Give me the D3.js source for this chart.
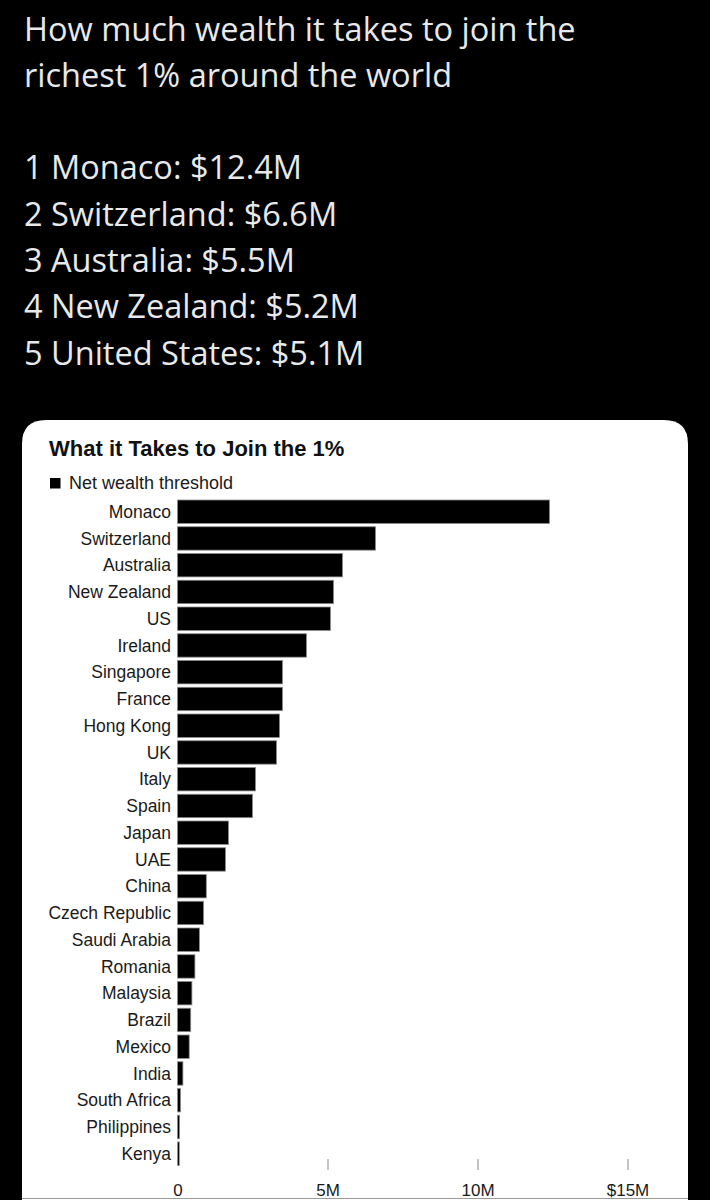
<!DOCTYPE html>
<html>
  <head>
    <meta charset="utf-8">
    <title>What it Takes to Join the 1%</title>
    <script type="text/javascript" src="https://cdn.jsdelivr.net/npm/d3@7"></script>
    <style type="text/css">
        html, body {
            margin: 0;
            padding: 0;
            background: #000;
        }
        svg {
            display: block;
        }
    </style>
  </head>
  <body>
    <div id="viz"></div>
    <script type="text/javascript">

    // header text of the post
    var headerLines = [
        "How much wealth it takes to join the",
        "richest 1% around the world",
        "",
        "1 Monaco: $12.4M",
        "2 Switzerland: $6.6M",
        "3 Australia: $5.5M",
        "4 New Zealand: $5.2M",
        "5 United States: $5.1M"
    ];

    var countries = ["Monaco", "Switzerland", "Australia", "New Zealand", "US", "Ireland",
        "Singapore", "France", "Hong Kong", "UK", "Italy", "Spain", "Japan", "UAE", "China",
        "Czech Republic", "Saudi Arabia", "Romania", "Malaysia", "Brazil", "Mexico", "India",
        "South Africa", "Philippines", "Kenya"];

    // net wealth threshold, $ millions
    var thresholds = [12.4, 6.6, 5.5, 5.2, 5.1, 4.3,
        3.5, 3.5, 3.4, 3.3, 2.6, 2.5, 1.7, 1.6, 0.96,
        0.87, 0.73, 0.58, 0.48, 0.44, 0.39, 0.18,
        0.10, 0.07, 0.06];

    var tickValues = [0, 5, 10, 15];
    var tickLabels = ["0", "5M", "10M", "$15M"];

    var W = 710, H = 1200;
    var svg = d3.select("#viz").append("svg")
        .attr("width", W)
        .attr("height", H);

    svg.append("rect")
        .attr("width", W).attr("height", H)
        .attr("fill", "#000");

    // tweet text
    svg.append("g").selectAll("text")
        .data(headerLines)
        .enter().append("text")
        .attr("x", 24)
        .attr("y", function(d, i) { return 40.5 + i * 46.3; })
        .attr("fill", "#e7e9ea")
        .style("font", "32.5px 'Open Sans', Roboto, sans-serif")
        .text(function(d) { return d; });

    // white card, rounded top, cut at the bottom
    var cx0 = 22, cx1 = 688, cy0 = 420, r = 24;
    svg.append("path")
        .attr("d", "M" + cx0 + "," + H + " V" + (cy0 + r) +
            " Q" + cx0 + "," + cy0 + " " + (cx0 + r) + "," + cy0 +
            " H" + (cx1 - r) + " Q" + cx1 + "," + cy0 + " " + cx1 + "," + (cy0 + r) +
            " V" + H + " Z")
        .attr("fill", "#fff");
    svg.append("line")
        .attr("x1", cx0).attr("x2", cx1)
        .attr("y1", 1198.5).attr("y2", 1198.5)
        .attr("stroke", "#9a9a9a")
        .attr("stroke-width", 1);

    var font = "'Liberation Sans', Arial, Helvetica, sans-serif";

    svg.append("text")
        .attr("x", 49).attr("y", 456)
        .attr("fill", "#111")
        .style("font", "bold 22px " + font)
        .text("What it Takes to Join the 1%");

    svg.append("rect")
        .attr("x", 50).attr("y", 478)
        .attr("width", 10.5).attr("height", 10.5)
        .attr("fill", "#000");
    svg.append("text")
        .attr("x", 69).attr("y", 489)
        .attr("fill", "#1a1a1a")
        .style("font", "18px " + font)
        .text("Net wealth threshold");

    // scales
    var step = 26.75;
    var x = d3.scaleLinear().domain([0, 15]).range([177.5, 627.5]);
    var y = d3.scaleBand()
        .domain(countries)
        .range([500 - step * 0.0625, 500 - step * 0.0625 + countries.length * step])
        .paddingInner(0.125)
        .paddingOuter(0.0625);

    var chart = svg.append("g");

    chart.selectAll("rect.bar")
        .data(countries)
        .enter().append("rect")
        .attr("class", "bar")
        .attr("x", x(0))
        .attr("y", function(d) { return y(d); })
        .attr("width", function(d, i) { return x(thresholds[i]) - x(0); })
        .attr("height", y.bandwidth())
        .attr("fill", "#000")
        .attr("stroke", "#8c8c8c")
        .attr("stroke-width", 0.8);

    chart.selectAll("text.label")
        .data(countries)
        .enter().append("text")
        .attr("class", "label")
        .attr("x", 171)
        .attr("y", function(d) { return y(d) + y.bandwidth() / 2; })
        .attr("dy", "0.35em")
        .attr("text-anchor", "end")
        .attr("fill", "#1a1a1a")
        .style("font", "17.5px " + font)
        .text(function(d) { return d; });

    // x axis
    var xAxis = d3.axisBottom(x)
        .tickValues(tickValues)
        .tickFormat(function(d, i) { return tickLabels[i]; })
        .tickSize(11)
        .tickPadding(14);

    var ax = svg.append("g")
        .attr("transform", "translate(0,1159)")
        .call(xAxis);
    ax.select(".domain").remove();
    ax.selectAll(".tick line")
        .attr("stroke", "#8a8a8a")
        .attr("opacity", function(d) { return d === 0 ? 0 : 1; });
    ax.selectAll(".tick text")
        .attr("fill", "#1a1a1a")
        .style("font", "17px " + font);

    </script>
  </body>
</html>
